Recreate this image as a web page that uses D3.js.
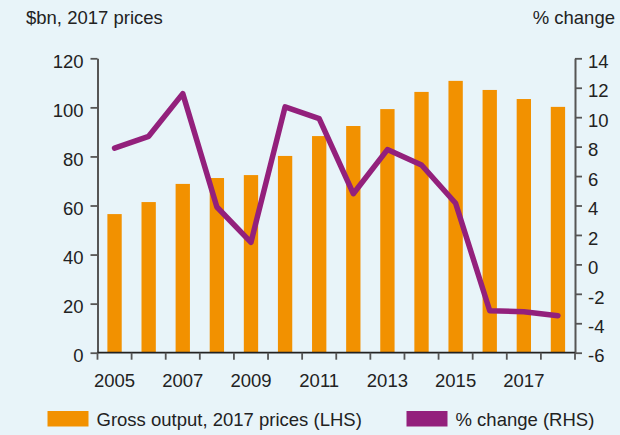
<!DOCTYPE html>
<html>
<head>
<meta charset="utf-8">
<script src="https://cdn.jsdelivr.net/npm/d3@7"></script>
<style>
  html, body { margin: 0; padding: 0; background: #e8f4f9; }
  svg { display: block; }
  text { font-family: "Liberation Sans", Arial, Helvetica, sans-serif; fill: #222; }
</style>
</head>
<body>
<svg id="chart" width="620" height="435"></svg>
<script>
// Gross output ($bn, 2017 prices) and its annual % change
const years = [2005, 2006, 2007, 2008, 2009, 2010, 2011, 2012, 2013, 2014, 2015, 2016, 2017, 2018];
const grossOutput = [56.5, 61.4, 68.8, 71.2, 72.4, 80.2, 88.3, 92.4, 99.3, 106.3, 110.8, 107.1, 103.4, 100.2];
const pctChange = [7.9, 8.7, 11.6, 3.9, 1.5, 10.7, 9.9, 4.8, 7.8, 6.75, 4.15, -3.15, -3.22, -3.49];
const yearLabels = [2005, 2007, 2009, 2011, 2013, 2015, 2017];
const leftTicks = [0, 20, 40, 60, 80, 100, 120];
const rightTicks = [-6, -4, -2, 0, 2, 4, 6, 8, 10, 12, 14];
const leftTitle = "$bn, 2017 prices";
const rightTitle = "% change";
const legendLabels = ["Gross output, 2017 prices (LHS)", "% change (RHS)"];

const colors = { bar: "#f29100", line: "#93207c", axis: "#555", base: "#222" };
const fontSize = 18.5;

const svg = d3.select("#chart");
const plot = { left: 97.5, right: 575, top: 58.3, bottom: 352.7 };

const x = d3.scaleBand().domain(years).range([plot.left, plot.right]).paddingInner(0).paddingOuter(0);
const yL = d3.scaleLinear().domain([0, 120]).range([plot.bottom, plot.top]);
const yR = d3.scaleLinear().domain([-6, 14]).range([plot.bottom, plot.top]);

const barW = x.bandwidth() * 0.42;
const plain = (d) => String(d);  // hyphen-minus for negatives

// Bars
svg.append("g").selectAll("rect").data(years).join("rect")
  .attr("x", (d) => x(d) + x.bandwidth() / 2 - barW / 2)
  .attr("y", (d, i) => yL(grossOutput[i]))
  .attr("width", barW)
  .attr("height", (d, i) => yL(0) - yL(grossOutput[i]))
  .attr("fill", colors.bar);

// % change line
const line = d3.line()
  .x((d) => x(d.year) + x.bandwidth() / 2)
  .y((d) => yR(d.v));
svg.append("path")
  .datum(years.map((year, i) => ({ year, v: pctChange[i] })))
  .attr("d", line)
  .attr("fill", "none")
  .attr("stroke", colors.line)
  .attr("stroke-width", 5.5)
  .attr("stroke-linejoin", "round")
  .attr("stroke-linecap", "round");

// Left axis
const gL = svg.append("g")
  .attr("transform", `translate(${plot.left},0)`)
  .call(d3.axisLeft(yL).tickValues(leftTicks).tickFormat(plain).tickSize(7).tickSizeOuter(0).tickPadding(7));
gL.select(".domain").attr("stroke", colors.axis).attr("stroke-width", 2);
gL.selectAll(".tick line").attr("stroke", colors.axis).attr("stroke-width", 1.8);
gL.selectAll(".tick text").attr("font-size", fontSize).attr("dy", "0.5em").style("font-family", null);

// Right axis
const gR = svg.append("g")
  .attr("transform", `translate(${plot.right},0)`)
  .call(d3.axisRight(yR).tickValues(rightTicks).tickFormat(plain).tickSize(7).tickSizeOuter(0).tickPadding(6));
gR.select(".domain").attr("stroke", colors.axis).attr("stroke-width", 2);
gR.selectAll(".tick line").attr("stroke", colors.axis).attr("stroke-width", 1.8);
gR.selectAll(".tick text").attr("font-size", fontSize).attr("dy", "0.5em").style("font-family", null);

// Bottom axis: tick marks at category boundaries, labels on alternate years
const boundaries = years.map((d) => x(d)).concat([plot.right]);
const gB = svg.append("g");
gB.append("line")
  .attr("x1", plot.left).attr("x2", plot.right)
  .attr("y1", plot.bottom).attr("y2", plot.bottom)
  .attr("stroke", colors.base).attr("stroke-width", 1.8);
gB.selectAll("line.tk").data(boundaries).join("line")
  .attr("class", "tk")
  .attr("x1", (d) => d).attr("x2", (d) => d)
  .attr("y1", plot.bottom).attr("y2", plot.bottom + 7)
  .attr("stroke", colors.axis).attr("stroke-width", 1.8);

const gBL = svg.append("g")
  .attr("transform", `translate(0,${plot.bottom})`)
  .call(d3.axisBottom(x).tickValues(yearLabels).tickSize(0).tickPadding(21).tickFormat(plain));
gBL.select(".domain").remove();
gBL.selectAll(".tick text").attr("font-size", fontSize).style("font-family", null);

// Axis titles
svg.append("text").attr("x", 26).attr("y", 23.5).attr("font-size", fontSize).text(leftTitle);
svg.append("text").attr("x", 615).attr("y", 23.5).attr("font-size", fontSize)
  .attr("text-anchor", "end").text(rightTitle);

// Legend
const legend = svg.append("g");
const items = [
  { label: legendLabels[0], color: colors.bar, x: 47.5 },
  { label: legendLabels[1], color: colors.line, x: 406.5 }
];
items.forEach((it) => {
  legend.append("rect").attr("x", it.x).attr("y", 411).attr("width", 41).attr("height", 15.5).attr("fill", it.color);
  legend.append("text").attr("x", it.x + 49).attr("y", 425.5).attr("font-size", fontSize).text(it.label);
});
</script>
</body>
</html>
